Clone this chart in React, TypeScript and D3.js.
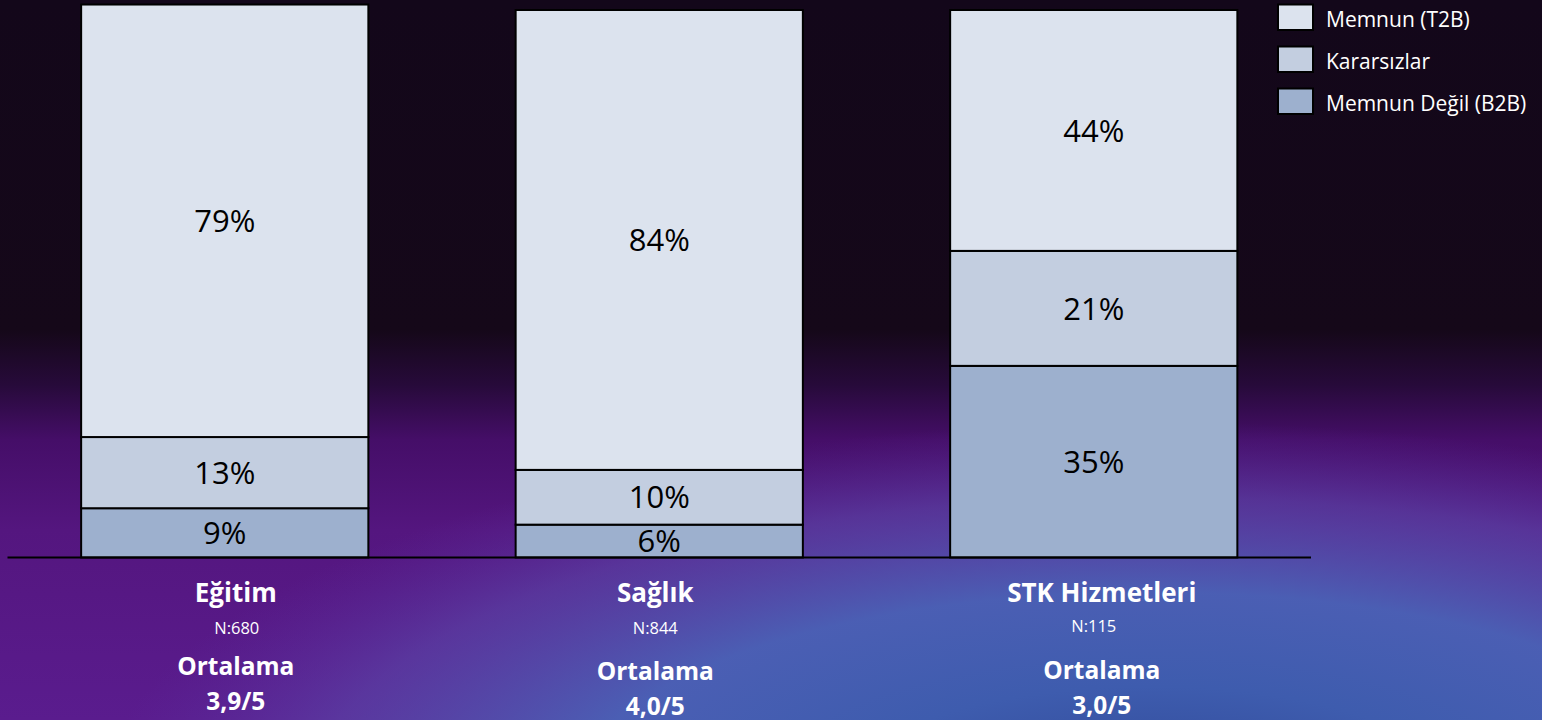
import React from "react";
import * as d3 from "d3";

// ---- data ----
const categories = ["Eğitim", "Sağlık", "STK Hizmetleri"];
const satisfied = [79, 84, 44]; // Memnun (T2B)
const undecided = [13, 10, 21]; // Kararsızlar
const dissatisfied = [9, 6, 35]; // Memnun Değil (B2B)
const sampleSizes = ["N:680", "N:844", "N:115"];
const averageLabel = "Ortalama";
const averages = ["3,9/5", "4,0/5", "3,0/5"];
const seriesKeys = ["b2b", "neutral", "t2b"];
const legendLabels = ["Memnun (T2B)", "Kararsızlar", "Memnun Değil (B2B)"];
const legendKeys = ["t2b", "neutral", "b2b"];

// ---- style / layout ----
const W = 1542;
const H = 720;
const FONT = "'Open Sans', 'Noto Sans', sans-serif";
const colors: Record<string, string> = {
  t2b: "#DCE3EE",
  neutral: "#C3CEE0",
  b2b: "#9DB0CE",
};
const labelDx = [11, -4, 8];
const nDx = [12, -4, 0];
const avgDy = [0, 5, 4];
const nDy = [0, 0, -2];

export default function App() {
  React.useEffect(() => {
    document.body.style.margin = "0";
  }, []);

  const rows = categories.map((c, i) => ({
    cat: c,
    t2b: satisfied[i],
    neutral: undecided[i],
    b2b: dissatisfied[i],
  }));
  const stacked = d3.stack<any>().keys(seriesKeys)(rows);

  const x = d3
    .scaleBand<string>()
    .domain(categories)
    .range([7.5, 1311])
    .paddingInner(0.339)
    .paddingOuter(0.1695);
  const y = d3.scaleLinear().domain([0, 100]).range([557.5, 10]);

  const legendY = d3.scaleLinear().domain([0, 1]).range([4.5, 46.5]);

  return (
    <svg
      width={W}
      height={H}
      style={{ display: "block", position: "absolute", left: 0, top: 0 }}
      fontFamily={FONT}
    >
      <defs>
        <linearGradient id="bgV" x1="0" y1="0" x2="0" y2={H} gradientUnits="userSpaceOnUse">
          <stop offset={0} stopColor="#13071a" />
          <stop offset={330 / H} stopColor="#150819" />
          <stop offset={385 / H} stopColor="#270a3a" />
          <stop offset={440 / H} stopColor="#450e68" />
          <stop offset={530 / H} stopColor="#54167f" />
          <stop offset={1} stopColor="#5a1c8e" />
        </linearGradient>
        <radialGradient
          id="bgBlue"
          cx={1150}
          cy={800}
          r={1050}
          gradientUnits="userSpaceOnUse"
          gradientTransform="translate(1150,800) scale(1,0.36) translate(-1150,-800)"
        >
          <stop offset={0} stopColor="#2e4796" stopOpacity={1} />
          <stop offset={0.3} stopColor="#3e5cae" stopOpacity={1} />
          <stop offset={0.55} stopColor="#4a62b6" stopOpacity={0.95} />
          <stop offset={0.8} stopColor="#5a48aa" stopOpacity={0.6} />
          <stop offset={1} stopColor="#5a30a0" stopOpacity={0} />
        </radialGradient>
      </defs>
      <rect x={0} y={0} width={W} height={H} fill="url(#bgV)" />
      <rect x={0} y={0} width={W} height={H} fill="url(#bgBlue)" />

      {/* bars */}
      {stacked.map((s) => (
        <g key={s.key}>
          {s.map((d, i) => {
            const cat = categories[i];
            const x0 = x(cat)!;
            const y0 = y(d[1]);
            const y1 = y(d[0]);
            const v = d[1] - d[0];
            return (
              <g key={cat}>
                <rect
                  x={x0}
                  y={y0}
                  width={x.bandwidth()}
                  height={y1 - y0}
                  fill={colors[s.key]}
                  stroke="#000"
                  strokeWidth={2}
                />
                <text
                  x={x0 + x.bandwidth() / 2}
                  y={(y0 + y1) / 2}
                  dy="0.36em"
                  textAnchor="middle"
                  fontSize={31}
                  fill="#000"
                >
                  {v}%
                </text>
              </g>
            );
          })}
        </g>
      ))}

      {/* axis baseline */}
      <line
        x1={x.range()[0]}
        x2={x.range()[1]}
        y1={y(0)}
        y2={y(0)}
        stroke="#000"
        strokeWidth={2.2}
      />

      {/* category labels */}
      {categories.map((c, i) => {
        const cx = x(c)! + x.bandwidth() / 2;
        return (
          <g key={c} fill="#fff" textAnchor="middle">
            <text x={cx + labelDx[i]} y={601.5} fontSize={26} fontWeight={700}>
              {c}
            </text>
            <text x={cx + nDx[i]} y={634 + nDy[i]} fontSize={16.5}>
              {sampleSizes[i]}
            </text>
            <text x={cx + labelDx[i]} y={675 + avgDy[i]} fontSize={24.5} fontWeight={700}>
              {averageLabel}
            </text>
            <text x={cx + labelDx[i]} y={710 + avgDy[i]} fontSize={24.5} fontWeight={700}>
              {averages[i]}
            </text>
          </g>
        );
      })}

      {/* legend */}
      {legendKeys.map((k, i) => (
        <g key={k}>
          <rect
            x={1278}
            y={legendY(i)}
            width={35}
            height={25.5}
            fill={colors[k]}
            stroke="#000"
            strokeWidth={2}
          />
          <text x={1326} y={legendY(i) + 22} fontSize={21} fill="#fff">
            {legendLabels[i]}
          </text>
        </g>
      ))}
    </svg>
  );
}
